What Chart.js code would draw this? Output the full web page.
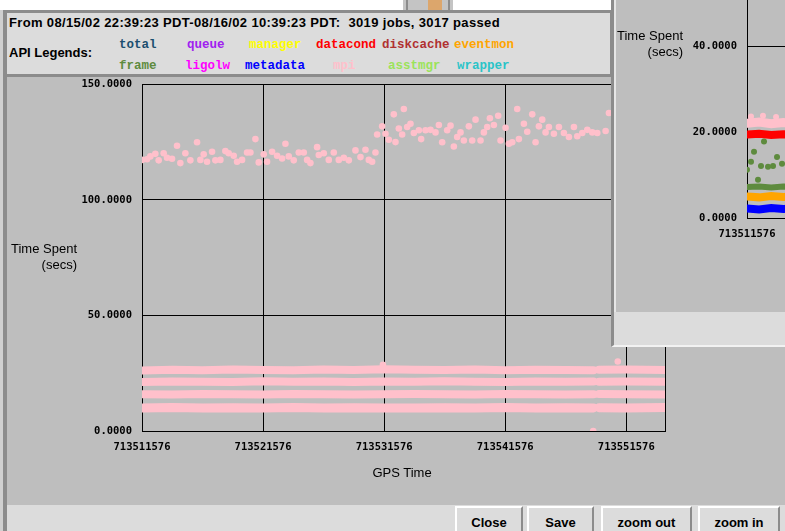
<!DOCTYPE html>
<html lang="en">
<head>
  <meta charset="UTF-8" />
  <title>API Time Spent - mpi</title>
  <script src="https://cdn.jsdelivr.net/npm/chart.js"></script>
  <style>
    html, body { margin: 0; padding: 0; }
    body { width: 785px; height: 531px; overflow: hidden; position: relative; background: #fff;
           font-family: "Liberation Sans", Arial, sans-serif; color: #000; }
    .abs { position: absolute; }
    #bgwin { left: 403px; top: 0; width: 50px; height: 10px; background: #c4c4c4; }
    #bgwin .edge { top: 0; width: 2px; height: 10px; background: #8c8c8c; }
    #bgwin .tan { left: 25px; top: 0; width: 14px; height: 10px; background: #dca66c; }
    #frameL { left: 0; top: 10px; width: 3px; height: 521px; background: #d0d0d0; }
    #border { left: 3px; top: 10px; width: 782px; height: 521px; background: #8c8c8c; }
    #header { left: 7px; top: 13px; width: 603px; height: 61px; background: #dcdcdc; }
    #plotbg { left: 7px; top: 77px; width: 778px; height: 428px; background: #bebebe; }
    #bottom { left: 7px; top: 505px; width: 778px; height: 26px; background: #dcdcdc; }
    #title { left: 9px; top: 14px; font-size: 13px; font-weight: bold; line-height: 17px; white-space: pre; letter-spacing: 0.35px; }
    #apilbl { left: 9px; top: 45px; font-size: 13px; font-weight: bold; line-height: 16px; }
    .lg { font-family: "Liberation Mono", monospace; font-weight: bold; font-size: 12.5px; line-height: 16px; white-space: pre; }
    .ytitle { font-size: 13px; line-height: 16px; text-align: right; }
    #mainChart { left: 7px; top: 68px; }
    #xtitle { left: 302px; top: 465px; width: 200px; text-align: center; font-size: 13px; line-height: 16px; }
    .btn { top: 506px; height: 30px; line-height: 29px; text-align: center; font-size: 13px; font-weight: bold;
           background: #dcdcdc; box-sizing: border-box; border-top: 2px solid #fff; border-left: 2px solid #fff;
           border-right: 2px solid #8c8c8c; }
    #rwin { left: 611px; top: 0; width: 171px; height: 345px; background: #bebebe; overflow: hidden;
            border-left: 3px solid #8c8c8c; border-bottom: 2px solid #f2f2f2; box-shadow: inset 2px 0 #e6e6e6; z-index: 5; }
    #rwin .strip { left: 0; top: 312px; width: 171px; height: 33px; background: #dcdcdc; }
    #sideChart { left: 0; top: -60px; }
  </style>
</head>
<body>
  <div class="abs" id="bgwin">
    <div class="abs edge" style="left:3px"></div>
    <div class="abs tan"></div>
    <div class="abs edge" style="left:45px"></div>
  </div>
  <div class="abs" id="frameL"></div>
  <div class="abs" id="border"></div>
  <div class="abs" id="header"></div>
  <div class="abs" id="plotbg"></div>
  <div class="abs" id="bottom"></div>

  <div class="abs" id="title">From 08/15/02 22:39:23 PDT-08/16/02 10:39:23 PDT:  3019 jobs, 3017 passed</div>
  <div class="abs" id="apilbl">API Legends:</div>
  <div id="legend"></div>

  <canvas class="abs" id="mainChart" width="693" height="437"></canvas>
  <div class="abs ytitle" style="left:0;width:77px;top:241px">Time Spent<br>(secs)</div>
  <div class="abs" id="xtitle">GPS Time</div>

  <div class="abs btn" style="left:455px;width:68px">Close</div>
  <div class="abs btn" style="left:527px;width:67px">Save</div>
  <div class="abs btn" style="left:601px;width:91px">zoom out</div>
  <div class="abs btn" style="left:698px;width:82px">zoom in</div>

  <div class="abs" id="rwin">
    <canvas class="abs" id="sideChart" width="700" height="320"></canvas>
    <div class="abs ytitle" style="left:0;width:69px;top:28px">Time Spent<br>(secs)</div>
    <div class="abs strip"></div>
  </div>

  <script>
    // GPS start of the 12h window, x values are seconds after it
    const t0 = 713511576;
    const xEnd = 43200;
    const xTicks = [0, 10000, 20000, 30000, 40000, 43200];
    const xTickLabels = ['713511576', '713521576', '713531576', '713541576', '713551576', ''];
    const yTicks = [0, 50, 100, 150];
    const yTickLabels = ['0.0000', '50.0000', '100.0000', '150.0000'];
    const sideYTicks = [0, 20, 40, 60];
    const sideYTickLabels = ['0.0000', '20.0000', '40.0000', '60.0000'];

    const apiNames = ['total', 'queue', 'manager', 'datacond', 'diskcache', 'eventmon',
                      'frame', 'ligolw', 'metadata', 'mpi', 'asstmgr', 'wrapper'];
    const apiColors = ['#1b4f6f', '#a020f0', '#ffff00', '#ff0000', '#b03030', '#ffa500',
                       '#5e8b3e', '#ff00ff', '#0000ff', '#ffc0cb', '#9be35a', '#2ac4c8'];

    // mpi: single jobs (upper cloud + strays)
    const mpiT = [0, 413, 689, 1102, 1378, 1791, 2066, 2480, 2893, 3168, 3582, 3995, 4546, 4821, 5097, 5372,
      5786, 6061, 6474, 6887, 7163, 7576, 7852, 8265, 8678, 8954, 9367, 9643, 10056, 10331, 10745, 11158,
      11571, 11847, 12122, 12535, 12949, 13362, 13637, 13913, 14464, 14602, 15015, 15428, 15841, 16254,
      16668, 17081, 17632, 18045, 18459, 18734, 19010, 19285,
      19423, 19836, 20112, 20387, 20800, 20938, 21214, 21489, 21627, 21902, 22178, 22453, 22867, 23059,
      23418, 23831, 24244, 24520, 24795, 25208, 25484, 25759, 26035, 26310, 26586, 26999, 27275, 27550,
      27963, 28239, 28514, 28735, 29065, 29423, 29616, 30030, 30305, 30581, 30994, 31132, 31545, 31820,
      32234, 32509, 32785, 33060, 33336, 33611, 34024, 34438, 34851, 35264, 35678, 35953, 36366, 36780,
      37193, 37606, 38295, 38570,
      19900, 39300, 37270];
    const mpiV = [117.3, 117.6, 118.8, 119.9, 117.1, 120.2, 118.2, 117.8, 123.4, 115.9, 120.2, 117.1, 124.9,
      117.3, 119.7, 116.5, 120.8, 117.1, 117.3, 121.1, 120.2, 119.1, 116.5, 117.3, 120.5, 120.5, 126.3,
      116.2, 119.7, 116.5, 120.8, 119.1, 117.9, 124.3, 118.8, 117.1, 120.5, 120.5, 117.3, 115.9, 122.8,
      119.4, 120.2, 117.3, 120.5, 117.3, 118.2, 117.1, 121.4, 118.5, 121.7, 117.3, 116.5, 120.5,
      128.3, 131.8, 128.6, 126.0, 137.0, 125.0, 130.9, 128.3, 139.3, 131.5, 132.9, 128.9, 130.1, 126.3,
      130.1, 130.3, 129.2, 132.4, 124.9, 130.1, 132.1, 123.1, 127.2, 129.2, 125.7, 131.8, 125.7, 134.7,
      125.7, 129.2, 131.5, 135.3, 132.4, 136.4, 125.7, 131.2, 124.3, 124.9, 139.3, 126.3, 132.9, 129.5,
      137.0, 124.9, 131.8, 134.7, 129.2, 131.5, 128.6, 131.5, 128.9, 127.2, 131.5, 127.5, 128.9, 130.3,
      129.2, 128.9, 129.8, 137.6,
      28.6, 30.1, 0.0];

    // mpi: the four dense lower bands
    const bandT = [0, 2500, 5000, 7500, 10000, 12500, 15000, 17500, 20000, 22500, 25000, 27500, 30000,
      32500, 35000, 37300, 37550, 37750, 40000, 43200];
    const mpiBand1 = [26.2, 26.5, 26.3, 26.6, 26.4, 26.3, 26.6, 26.4, 26.7, 26.5, 26.4, 26.6, 26.3, 26.5,
      26.4, 26.3, null, 26.5, 26.6, 26.4];
    const mpiBand2 = [21.2, 21.4, 21.3, 21.2, 21.5, 21.3, 21.4, 21.2, 21.4, 21.3, 21.5, 21.3, 21.2, 21.4,
      21.3, 21.4, null, 21.3, 21.4, 21.3];
    const mpiBand3 = [15.9, 15.8, 16.0, 15.9, 15.8, 16.0, 15.9, 15.8, 15.9, 16.0, 15.9, 15.8, 16.0, 15.9,
      15.8, 15.9, null, 16.0, 15.9, 15.8];
    const mpiBand4 = [10.0, 10.2, 9.9, 10.1, 10.0, 10.2, 9.9, 10.1, 10.0, 9.9, 10.1, 10.0, 10.2, 9.9,
      10.1, 10.0, null, 10.1, 10.0, 10.2];

    // the other plot window (all APIs), only its left edge is visible
    const sideT = [0, 1000, 2000, 3000, 4000];
    const sideMpi = [22.0, 22.3, 21.9, 22.2, 22.0];
    const sideDatacond = [19.4, 19.6, 19.3, 19.5, 19.4];
    const sideFrame = [7.2, 7.3, 7.1, 7.3, 7.2];
    const sideEventmon = [5.0, 4.8, 5.1, 4.9, 5.0];
    const sideMetadata = [2.2, 2.0, 2.3, 2.1, 2.2];
    const sideFrameT = [0, 330, 579, 909, 1157, 1405, 1736, 2149, 2479, 2893];
    const sideFrameV = [11.2, 13.1, 15.4, 8.9, 12.1, 17.8, 11.9, 12.1, 14.2, 12.6];
    const sideMpiT = [330, 1320, 2400];
    const sideMpiV = [23.6, 23.8, 23.5];

    // legend text in the header
    const legendLeft = [119, 187, 249, 316, 382, 454, 119, 185, 245, 333, 388, 457];
    const legend = document.getElementById('legend');
    apiNames.forEach((n, i) => {
      const s = document.createElement('div');
      s.className = 'abs lg';
      s.style.left = legendLeft[i] + 'px';
      s.style.top = (i < 6 ? 37 : 58) + 'px';
      s.style.color = apiColors[i];
      s.textContent = n;
      legend.appendChild(s);
    });

    const pts = (xs, ys) => xs.map((x, i) => ({ x: x, y: ys[i] }));
    const tickFont = { family: 'DejaVu Sans Mono', size: 10.5, weight: 'bold' };
    const col = name => apiColors[apiNames.indexOf(name)];

    function band(xs, ys, color, w) {
      return { data: pts(xs, ys), showLine: true, borderColor: color, borderWidth: w,
               borderCapStyle: 'round', pointRadius: 0, spanGaps: false };
    }
    function dots(xs, ys, color, r) {
      return { data: pts(xs, ys), backgroundColor: color, borderWidth: 0, pointRadius: r, pointStyle: 'circle' };
    }

    function makeScales(yT, yL, yMax, yWidth, xHeight) {
      return {
        x: {
          type: 'linear', min: 0, max: xEnd,
          afterBuildTicks: s => { s.ticks = xTicks.map(v => ({ value: v })); },
          afterFit: s => { s.height = xHeight; },
          ticks: { callback: (v, i) => xTickLabels[i], font: tickFont, color: '#000', padding: 10,
                   maxRotation: 0, autoSkip: false },
          grid: { color: '#000', drawTicks: false },
          border: { color: '#000' }
        },
        y: {
          min: 0, max: yMax,
          afterBuildTicks: s => { s.ticks = yT.map(v => ({ value: v })); },
          afterFit: s => { s.width = yWidth; },
          ticks: { callback: (v, i) => yL[i], font: tickFont, color: '#000', padding: 10 },
          grid: { color: '#000', drawTicks: false },
          border: { color: '#000' }
        }
      };
    }

    const mpiColor = col('mpi');
    new Chart(document.getElementById('mainChart'), {
      type: 'scatter',
      data: {
        datasets: [
          band(bandT, mpiBand1, mpiColor, 8),
          band(bandT, mpiBand2, mpiColor, 8),
          band(bandT, mpiBand3, mpiColor, 8),
          band(bandT, mpiBand4, mpiColor, 9),
          dots(mpiT, mpiV, mpiColor, 3.3)
        ]
      },
      options: {
        responsive: false, animation: false, events: [],
        layout: { padding: { top: 7, right: 35, left: 0, bottom: 0 } },
        plugins: { legend: { display: false }, tooltip: { enabled: false } },
        scales: makeScales(yTicks, yTickLabels, 150, 135, 74)
      }
    });

    new Chart(document.getElementById('sideChart'), {
      type: 'scatter',
      data: {
        datasets: [
          band(sideT, sideMpi, mpiColor, 9),
          dots(sideMpiT, sideMpiV, mpiColor, 3),
          band(sideT, sideDatacond, col('datacond'), 8),
          band(sideT, sideFrame, col('frame'), 6),
          dots(sideFrameT, sideFrameV, col('frame'), 3),
          band(sideT, sideEventmon, col('eventmon'), 8),
          band(sideT, sideMetadata, col('metadata'), 8)
        ]
      },
      options: {
        responsive: false, animation: false, events: [],
        layout: { padding: { top: 20, right: 44, left: 0, bottom: 0 } },
        plugins: { legend: { display: false }, tooltip: { enabled: false } },
        scales: makeScales(sideYTicks, sideYTickLabels, 60, 133, 42)
      }
    });
  </script>
</body>
</html>
